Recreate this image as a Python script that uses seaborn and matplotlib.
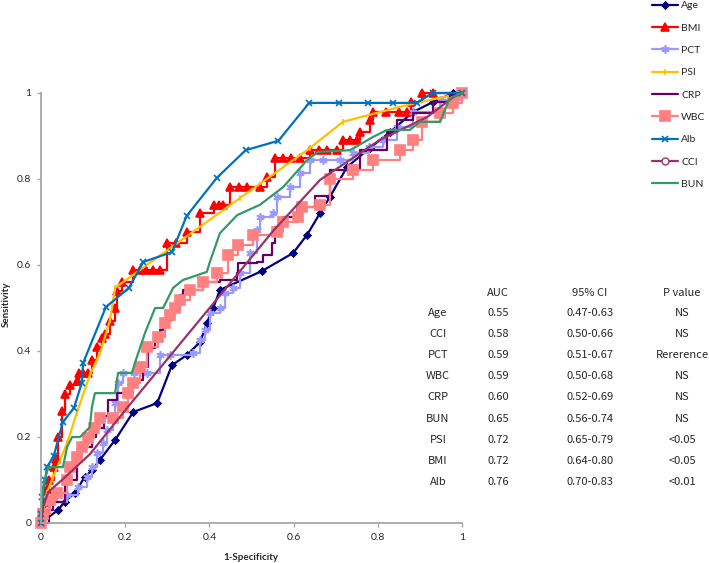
import matplotlib
matplotlib.use("Agg")
import matplotlib.pyplot as plt
import seaborn as sns
from matplotlib.lines import Line2D

sns.set_style("white")
plt.rcParams['font.family'] = ['Lato', 'DejaVu Sans']

# ROC curve points (1-Specificity, Sensitivity)
age_x = [0, 0.04, 0.057, 0.08, 0.104, 0.121, 0.14, 0.176, 0.219, 0.276, 0.311, 0.347, 0.378, 0.394,
         0.409, 0.425, 0.525, 0.599, 0.632, 0.663, 0.686, 0.727, 0.781, 0.829, 0.884, 0.931, 0.979, 1.0]
age_y = [0, 0.03, 0.05, 0.07, 0.107, 0.123, 0.147, 0.193, 0.258, 0.279, 0.367, 0.391, 0.421, 0.465,
         0.5, 0.542, 0.586, 0.628, 0.67, 0.721, 0.758, 0.828, 0.872, 0.909, 0.956, 0.979, 1.0, 1.0]

bmi_x = [0, 0.005, 0.01, 0.015, 0.02, 0.03, 0.035, 0.04, 0.05, 0.057, 0.069, 0.085, 0.09, 0.1, 0.112,
         0.12, 0.133, 0.145, 0.152, 0.164, 0.176, 0.18, 0.192, 0.219, 0.235, 0.25, 0.267, 0.283, 0.299,
         0.32, 0.346, 0.378, 0.41, 0.422, 0.433, 0.449, 0.47, 0.49, 0.52, 0.536, 0.556, 0.575, 0.595,
         0.615, 0.639, 0.66, 0.68, 0.703, 0.717, 0.735, 0.75, 0.758, 0.781, 0.789, 0.82, 0.85, 0.869,
         0.88, 0.905, 0.93, 1.0]
bmi_y = [0, 0.03, 0.05, 0.08, 0.1, 0.13, 0.15, 0.2, 0.26, 0.3, 0.32, 0.33, 0.35, 0.35, 0.35,
         0.38, 0.41, 0.43, 0.44, 0.47, 0.5, 0.54, 0.56, 0.588, 0.588, 0.588, 0.588, 0.588, 0.651,
         0.651, 0.677, 0.721, 0.74, 0.74, 0.74, 0.781, 0.781, 0.781, 0.781, 0.805, 0.849, 0.849, 0.849,
         0.849, 0.867, 0.867, 0.867, 0.867, 0.891, 0.891, 0.891, 0.909, 0.937, 0.956, 0.956, 0.956, 0.956,
         0.98, 1.0, 1.0, 1.0]

pct_x = [0, 0, 0.02, 0.062, 0.088, 0.109, 0.121, 0.133, 0.147, 0.157, 0.171, 0.176, 0.183, 0.195,
         0.22, 0.252, 0.283, 0.306, 0.361, 0.378, 0.39, 0.401, 0.425, 0.437, 0.456, 0.473, 0.496, 0.513,
         0.52, 0.551, 0.56, 0.591, 0.615, 0.639, 0.67, 0.71, 0.74, 0.78, 0.812, 0.846, 0.884, 0.948, 1.0]
pct_y = [0, 0.03, 0.05, 0.065, 0.084, 0.107, 0.13, 0.163, 0.186, 0.216, 0.24, 0.279, 0.326, 0.349,
         0.349, 0.349, 0.391, 0.391, 0.395, 0.425, 0.449, 0.488, 0.5, 0.535, 0.547, 0.581, 0.628, 0.681,
         0.712, 0.721, 0.758, 0.781, 0.814, 0.844, 0.844, 0.844, 0.86, 0.875, 0.891, 0.921, 0.956, 0.984, 1.0]

psi_x = [0, 0.014, 0.029, 0.062, 0.085, 0.116, 0.14, 0.164, 0.176, 0.473, 0.639, 0.717, 0.869, 1.0]
psi_y = [0, 0.07, 0.107, 0.186, 0.256, 0.344, 0.395, 0.472, 0.547, 0.756, 0.872, 0.933, 0.972, 1.0]

crp_x = [0, 0.02, 0.029, 0.057, 0.085, 0.093, 0.12, 0.13, 0.15, 0.16, 0.18, 0.211, 0.223, 0.243,
         0.254, 0.271, 0.283, 0.29, 0.311, 0.33, 0.337, 0.385, 0.425, 0.465, 0.468, 0.513, 0.527, 0.549,
         0.555, 0.575, 0.608, 0.65, 0.686, 0.758, 0.822, 0.846, 0.884, 0.931, 0.971, 1.0]
crp_y = [0, 0.03, 0.05, 0.1, 0.147, 0.177, 0.2, 0.22, 0.25, 0.286, 0.302, 0.321, 0.333, 0.363,
         0.407, 0.426, 0.449, 0.472, 0.495, 0.53, 0.542, 0.56, 0.565, 0.581, 0.605, 0.607, 0.623, 0.651,
         0.688, 0.712, 0.735, 0.76, 0.821, 0.867, 0.909, 0.937, 0.953, 0.98, 0.995, 1.0]

wbc_x = [0, 0.005, 0.021, 0.038, 0.062, 0.069, 0.085, 0.097, 0.112, 0.125, 0.14, 0.171, 0.195, 0.207,
         0.219, 0.235, 0.252, 0.278, 0.295, 0.306, 0.318, 0.33, 0.354, 0.385, 0.418, 0.444, 0.468, 0.504,
         0.56, 0.575, 0.61, 0.62, 0.663, 0.686, 0.741, 0.789, 0.853, 0.884, 0.905, 0.948, 0.979, 1.0]
wbc_y = [0, 0.02, 0.053, 0.07, 0.1, 0.13, 0.154, 0.177, 0.198, 0.22, 0.244, 0.244, 0.27, 0.302,
         0.326, 0.363, 0.409, 0.433, 0.465, 0.484, 0.5, 0.519, 0.542, 0.56, 0.581, 0.623, 0.647, 0.67,
         0.677, 0.70, 0.712, 0.735, 0.74, 0.80, 0.821, 0.844, 0.867, 0.891, 0.933, 0.953, 0.977, 1.0]

alb_x = [0, 0, 0.003, 0.01, 0.014, 0.03, 0.052, 0.078, 0.097, 0.1, 0.154, 0.209, 0.243, 0.311,
         0.346, 0.417, 0.486, 0.564, 0.637, 0.708, 0.777, 0.836, 0.893, 0.93, 1.0]
alb_y = [0, 0.02, 0.06, 0.1, 0.13, 0.155, 0.235, 0.267, 0.326, 0.372, 0.502, 0.547, 0.607, 0.63,
         0.714, 0.802, 0.867, 0.889, 0.977, 0.977, 0.977, 0.977, 0.977, 1.0, 1.0]

cci_x = [0, 0.005, 0.017, 0.05, 0.116, 0.204, 0.553, 0.663, 0.805, 0.917, 0.979, 1.0]
cci_y = [0, 0.037, 0.072, 0.1, 0.16, 0.267, 0.681, 0.798, 0.891, 0.944, 0.99, 1.0]

bun_x = [0, 0.0, 0.005, 0.017, 0.052, 0.062, 0.074, 0.093, 0.116, 0.121, 0.128, 0.176, 0.183, 0.216,
         0.223, 0.247, 0.271, 0.29, 0.314, 0.337, 0.394, 0.401, 0.425, 0.466, 0.52, 0.575, 0.632, 0.658,
         0.734, 0.789, 0.822, 0.876, 0.9, 0.948, 0.971, 1.0]
bun_y = [0, 0.03, 0.084, 0.13, 0.13, 0.177, 0.2, 0.2, 0.223, 0.27, 0.302, 0.302, 0.349, 0.349,
         0.372, 0.442, 0.5, 0.5, 0.547, 0.565, 0.584, 0.607, 0.674, 0.716, 0.74, 0.781, 0.844, 0.863,
         0.867, 0.898, 0.914, 0.914, 0.933, 0.933, 0.988, 1.0]

# AUC table
tbl_names = ['Age', 'CCI', 'PCT', 'WBC', 'CRP', 'BUN', 'PSI', 'BMI', 'Alb']
tbl_auc = ['0.55', '0.58', '0.59', '0.59', '0.60', '0.65', '0.72', '0.72', '0.76']
tbl_ci = ['0.47-0.63', '0.50-0.66', '0.51-0.67', '0.50-0.68', '0.52-0.69',
          '0.56-0.74', '0.65-0.79', '0.64-0.80', '0.70-0.83']
tbl_p = ['NS', 'NS', 'Rererence', 'NS', 'NS', 'NS', '<0.05', '<0.05', '<0.01']
tbl_header = ['', 'AUC', '95% CI', 'P value']

# series: name, x, y, color, marker, markersize, drawstyle
series = [
    ('Age', age_x, age_y, '#000080', 'D', 3.5, 'default'),
    ('BMI', bmi_x, bmi_y, '#FF0000', '^', 5.5, 'steps-post'),
    ('PCT', pct_x, pct_y, '#9999FF', (6, 2, 0), 6, 'steps-post'),
    ('PSI', psi_x, psi_y, '#FFC000', '|', 5, 'default'),
    ('CRP', crp_x, crp_y, '#660066', None, 0, 'steps-post'),
    ('WBC', wbc_x, wbc_y, '#FF8080', 's', 7, 'steps-post'),
    ('Alb', alb_x, alb_y, '#0070C0', 'x', 5, 'default'),
    ('CCI', cci_x, cci_y, '#993366', None, 0, 'default'),
    ('BUN', bun_x, bun_y, '#339966', None, 0, 'default'),
]

fig = plt.figure(figsize=(7.09, 5.63), dpi=100)
ax = fig.add_axes([41 / 709, 40 / 563, 421 / 709, 430 / 563])

handles = []
for name, xs, ys, col, mk, ms, ds in series:
    sns.lineplot(x=xs, y=ys, ax=ax, sort=False, estimator=None, color=col, lw=1.6,
                 marker=mk, markersize=ms, markeredgecolor=col, markerfacecolor=col,
                 markeredgewidth=1.2, drawstyle=ds, clip_on=False, legend=False)
    if name == 'CCI':
        handles.append(Line2D([], [], color=col, lw=1.6, marker='o', markersize=5,
                              markerfacecolor='white', markeredgecolor=col))
    else:
        handles.append(Line2D([], [], color=col, lw=1.6, marker=mk, markersize=ms,
                              markerfacecolor=col, markeredgecolor=col, markeredgewidth=1.2))

ax.set_xlim(0, 1)
ax.set_ylim(0, 1)
ticks = [0, 0.2, 0.4, 0.6, 0.8, 1]
tick_labels = ['0', '0.2', '0.4', '0.6', '0.8', '1']
ax.set_xticks(ticks)
ax.set_xticklabels(tick_labels)
ax.set_yticks(ticks)
ax.set_yticklabels(tick_labels)
ax.tick_params(axis='both', color='#A6A6A6', length=3, width=1, labelsize=7.5, pad=4, direction='out')
ax.xaxis.set_ticks_position('bottom')
ax.yaxis.set_ticks_position('left')
sns.despine(ax=ax)
for sp in ['left', 'bottom']:
    ax.spines[sp].set_color('#A6A6A6')
    ax.spines[sp].set_linewidth(1.3)
ax.set_xlabel('')
ax.set_ylabel('')

fig.text(6 / 709, 1 - 304 / 563, 'Sensitivity', rotation=90, ha='center', va='center',
         fontsize=7, fontweight='bold')
fig.text(251 / 709, 1 - 557 / 563, '1-Specificity', ha='center', va='center',
         fontsize=7, fontweight='bold')

fig.legend(handles, [s[0] for s in series], loc='upper left', bbox_to_anchor=(652 / 709, 0.998),
           frameon=False, fontsize=7.5, handlelength=2.5, handletextpad=0.3, labelspacing=1.25,
           borderpad=0, borderaxespad=0)

# table of AUC values
col_x = [438, 498, 590, 682]
tfont = ['Noto Sans CJK JP', 'DejaVu Sans']
for j, h in enumerate(tbl_header):
    fig.text(col_x[j] / 709, 1 - 293 / 563, h, ha='center', va='center', fontsize=8, family=tfont)
for i in range(len(tbl_names)):
    yy = 1 - (313 + 21.1 * i) / 563
    row = [tbl_names[i], tbl_auc[i], tbl_ci[i], tbl_p[i]]
    for j, v in enumerate(row):
        fig.text(col_x[j] / 709, yy, v, ha='center', va='center', fontsize=8, family=tfont)

fig.savefig('out.png', dpi=100)
